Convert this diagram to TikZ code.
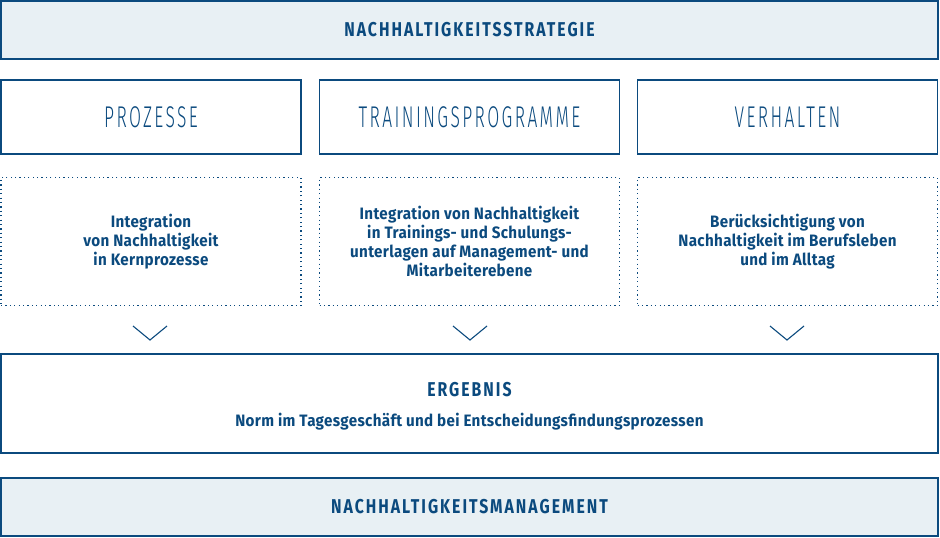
\documentclass[tikz,border=0pt]{standalone}
\usepackage{fontspec}
\setmainfont{Fira Sans}
\newfontfamily\headf{Fira Sans}[FakeStretch=0.79,LetterSpace=10]
\newfontfamily\thinf{Fira Sans Light}[FakeStretch=0.58,LetterSpace=8]
\newfontfamily\bodyf{Fira Sans}[FakeStretch=0.92,LetterSpace=2]
\definecolor{navy}{HTML}{0B4A7E}
\definecolor{lightfill}{HTML}{E8F0F4}
\tikzset{
  outer/.style={draw=navy, line width=1.5pt, fill=lightfill, minimum width=937pt, minimum height=58pt, inner sep=0pt, text=navy, font=\headf\bfseries\fontsize{20}{22}\selectfont},
  titlebox/.style={draw=navy, line width=1.3pt, minimum width=300pt, minimum height=74pt, inner sep=0pt, text=navy, font=\thinf\fontsize{30}{32}\selectfont},
  dotbox/.style={draw=navy, line width=1.2pt, dash pattern=on 1.2pt off 3.2pt, minimum width=300pt, minimum height=128pt, inner sep=0pt, text=navy, align=center, font=\bodyf\bfseries\fontsize{16.5}{19}\selectfont},
  resbox/.style={draw=navy, line width=1.3pt, minimum width=937pt, minimum height=99pt, inner sep=0pt},
  chev/.style={draw=navy, line width=1.1pt},
}
\begin{document}
\begin{tikzpicture}[x=1pt,y=-1pt]
\useasboundingbox (0,0) rectangle (940,538);
\node[outer] (strat) at (469.5,30) {NACHHALTIGKEITSSTRATEGIE};
\node[titlebox] (p1) at (151,117) {PROZESSE};
\node[titlebox] (p2) at (469.5,117) {TRAININGSPROGRAMME};
\node[titlebox] (p3) at (787.5,117) {VERHALTEN};
\node[dotbox] (d1) at (151,241.5) {Integration\\von Nachhaltigkeit\\in Kernprozesse};
\node[dotbox] (d2) at (469.5,241.5) {Integration von Nachhaltigkeit\\in Trainings- und Schulungs-\\unterlagen auf Management- und\\Mitarbeiterebene};
\node[dotbox] (d3) at (787.5,241.5) {Berücksichtigung von\\Nachhaltigkeit im Berufsleben\\und im Alltag};
\node[resbox] (res) at (469.5,403.5) {};
\node[text=navy, font=\headf\bfseries\fontsize{20}{22}\selectfont] (restitle) at (469.5,390) {ERGEBNIS};
\node[text=navy, font=\bodyf\bfseries\fontsize{16.5}{18}\selectfont] (restext) at (469.5,422) {Norm im Tagesgeschäft und bei Entscheidungsfindungsprozessen};
\node[outer] (mgmt) at (469.5,507) {NACHHALTIGKEITSMANAGEMENT};
\foreach \n/\cx in {1/150, 2/470, 3/787} {
  \coordinate (cl\n) at (\cx-17,326);
  \coordinate (ca\n) at (\cx,340);
  \coordinate (cr\n) at (\cx+17,326);
  \draw[chev] (cl\n) -- (ca\n) -- (cr\n);
}
\end{tikzpicture}
\end{document}
